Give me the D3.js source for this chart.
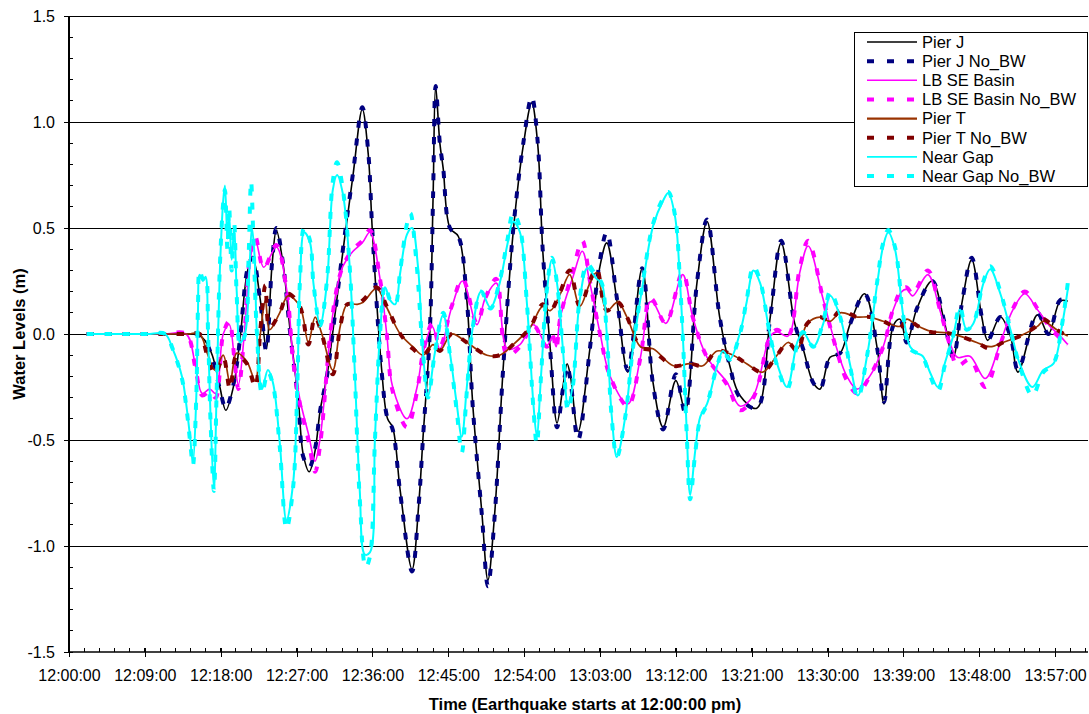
<!DOCTYPE html>
<html><head><meta charset="utf-8">
<script src="https://cdn.jsdelivr.net/npm/d3@7"></script>
<style>body{margin:0;background:#fff}svg{display:block;font-family:Arial,"Liberation Sans",sans-serif}</style>
</head><body><svg id="c" width="1089" height="714"></svg>
<script>
// minutes after 12:00:00, water level (m)
const pierJ = [[2.1,0],[4.6,0],[7.0,0],[9.3,0],[11.4,0],[14.0,0],[15.2,0.0],[16.1,-0.03],[17.0,-0.1],[17.9,-0.25],[18.6,-0.36],[19.5,-0.25],[20.3,-0.02],[21.2,0.30],[21.8,0.355],[22.7,0.16],[23.4,-0.07],[24.1,0.33],[24.6,0.49],[25.4,0.33],[26.2,0.03],[27.2,-0.31],[27.8,-0.57],[28.5,-0.65],[29.2,-0.55],[29.8,-0.36],[30.6,-0.2],[31.3,0.01],[32.5,0.39],[33.7,0.75],[34.8,1.06],[35.5,0.85],[36.0,0.48],[37.1,-0.17],[37.8,-0.40],[38.4,-0.44],[39.3,-0.74],[40.7,-1.11],[41.5,-0.8],[42.0,-0.49],[42.8,0.0],[43.2,0.65],[43.5,1.17],[44.0,0.9],[44.4,0.78],[45.2,0.5],[46.2,0.46],[47.2,0.16],[47.9,-0.33],[49.0,-0.85],[49.7,-1.16],[50.5,-0.85],[51.5,-0.17],[52.7,0.48],[53.9,0.89],[54.9,1.09],[55.6,0.9],[56.2,0.40],[57.1,-0.07],[57.9,-0.42],[58.6,-0.25],[59.1,-0.14],[59.5,-0.2],[60.4,-0.46],[61.8,-0.07],[63.0,0.32],[63.8,0.43],[65.0,0.16],[66.3,-0.18],[68.0,0.31],[69.3,-0.23],[70.5,-0.44],[72.0,-0.22],[73.1,-0.36],[74.5,0.24],[75.7,0.53],[77.2,0.08],[78.4,-0.15],[79.6,-0.29],[81.6,-0.35],[83.2,0.08],[84.5,0.43],[86.1,0.05],[87.1,-0.07],[88.3,-0.23],[89.1,-0.26],[90.3,-0.11],[91.5,-0.09],[92.7,0.05],[94.4,0.19],[95.9,-0.07],[96.7,-0.33],[97.8,0.04],[98.6,0.07],[99.4,-0.04],[100.6,0.12],[102.4,0.25],[103.9,0.05],[104.9,-0.11],[106.0,0.16],[107.1,0.35],[108.3,0.08],[109.0,-0.03],[110.5,0.08],[111.7,-0.01],[112.6,-0.18],[114.9,0.09],[116.2,0.0],[117.6,0.155],[118.5,0.155]];
const pierJNoBW = [[2.1,0],[4.6,0],[7.0,0],[9.3,0],[11.4,0],[14.0,0],[15.2,0.0],[16.1,-0.03],[17.0,-0.11],[17.9,-0.26],[18.6,-0.35],[19.5,-0.24],[20.3,-0.02],[21.2,0.31],[21.8,0.36],[22.7,0.15],[23.4,-0.08],[24.1,0.34],[24.6,0.50],[25.4,0.33],[26.2,0.02],[27.2,-0.32],[27.8,-0.58],[28.5,-0.63],[29.2,-0.54],[29.8,-0.36],[30.6,-0.2],[31.3,0.01],[32.5,0.40],[33.7,0.76],[34.8,1.07],[35.5,0.86],[36.0,0.48],[37.1,-0.18],[37.8,-0.40],[38.4,-0.45],[39.3,-0.75],[40.7,-1.12],[41.5,-0.8],[42.0,-0.49],[42.8,0.0],[43.2,0.66],[43.5,1.17],[44.0,0.9],[44.4,0.78],[45.2,0.5],[46.2,0.46],[47.2,0.16],[47.9,-0.34],[49.0,-0.86],[49.7,-1.19],[50.5,-0.86],[51.5,-0.17],[52.7,0.49],[53.9,0.9],[54.9,1.12],[55.6,0.91],[56.2,0.40],[57.1,-0.08],[57.9,-0.44],[58.6,-0.26],[59.1,-0.15],[59.5,-0.22],[60.4,-0.50],[61.8,-0.07],[63.0,0.35],[63.8,0.48],[65.0,0.17],[66.3,-0.17],[68.0,0.31],[69.3,-0.24],[70.5,-0.45],[72.0,-0.19],[73.1,-0.37],[74.5,0.24],[75.7,0.54],[77.2,0.08],[78.4,-0.15],[79.6,-0.3],[81.6,-0.35],[83.2,0.08],[84.5,0.44],[86.1,0.05],[87.1,-0.07],[88.3,-0.23],[89.1,-0.26],[90.3,-0.11],[91.5,-0.09],[92.7,0.05],[94.4,0.19],[95.9,-0.07],[96.7,-0.32],[97.8,0.04],[98.6,0.07],[99.4,-0.04],[100.6,0.12],[102.4,0.25],[103.9,0.05],[104.9,-0.11],[106.0,0.16],[107.1,0.36],[108.3,0.08],[109.0,-0.03],[110.5,0.08],[111.7,-0.01],[112.6,-0.17],[114.9,0.1],[116.2,0.0],[117.6,0.16],[118.5,0.16]];
const lbSE = [[2.1,0],[4.6,0],[7.0,0],[9.3,0],[11.4,0],[13.9,0],[15.0,-0.15],[15.8,-0.28],[16.7,-0.26],[17.4,-0.28],[18.3,0.0],[19.0,0.045],[19.7,-0.15],[20.1,-0.24],[20.8,0.0],[21.5,0.35],[22.1,0.445],[23.1,0.315],[24.6,0.41],[25.9,0.19],[26.6,-0.12],[27.4,-0.31],[28.4,-0.47],[29.2,-0.60],[29.8,-0.49],[31.0,0.0],[31.8,0.22],[32.5,0.32],[33.7,0.39],[34.8,0.43],[35.7,0.48],[36.9,0.26],[37.7,0.0],[38.4,-0.25],[40.1,-0.40],[41.3,-0.25],[42.0,-0.09],[43.1,0.035],[44.0,-0.07],[45.4,0.125],[46.7,0.25],[48.4,0.044],[49.4,0.17],[50.7,0.24],[52.0,-0.07],[53.5,-0.05],[55.1,0.044],[56.7,-0.054],[57.4,-0.01],[57.8,-0.06],[58.3,0.08],[59.8,0.27],[60.9,0.39],[61.8,0.24],[63.0,0.005],[64.2,-0.2],[66.3,-0.33],[67.8,-0.11],[68.9,0.15],[69.3,0.15],[70.8,0.05],[72.8,0.28],[74.0,0.08],[75.7,-0.11],[78.1,-0.23],[79.6,-0.34],[81.2,-0.29],[83.2,-0.01],[84.0,0.01],[85.3,-0.01],[86.7,0.29],[87.7,0.415],[89.5,0.16],[91.1,-0.07],[92.3,-0.2],[93.5,-0.26],[95.0,-0.2],[96.6,-0.06],[97.8,0.115],[98.8,0.2],[99.4,0.21],[100.1,0.18],[101.9,0.28],[103.3,0.115],[104.5,-0.04],[105.4,-0.11],[106.9,-0.105],[108.7,-0.21],[110.5,-0.04],[112.0,0.115],[113.4,0.19],[114.9,0.115],[116.4,0.036],[117.6,-0.01],[118.5,-0.05]];
const lbSENoBW = [[2.1,0],[4.6,0],[7.0,0],[9.3,0],[11.4,0],[13.9,0],[15.0,-0.16],[15.8,-0.29],[16.7,-0.27],[17.4,-0.3],[18.3,0.0],[19.0,0.06],[19.7,-0.15],[20.1,-0.26],[20.8,0.0],[21.5,0.37],[22.1,0.46],[23.1,0.31],[24.6,0.42],[25.9,0.18],[26.6,-0.13],[27.4,-0.33],[28.4,-0.5],[29.2,-0.65],[29.8,-0.52],[31.0,0.0],[31.8,0.22],[32.5,0.32],[33.7,0.40],[34.8,0.44],[35.7,0.49],[36.9,0.26],[37.7,0.0],[38.4,-0.27],[40.1,-0.44],[41.3,-0.27],[42.0,-0.09],[43.1,0.05],[44.0,-0.06],[45.4,0.13],[46.7,0.26],[48.4,0.05],[49.4,0.17],[50.7,0.26],[52.0,-0.1],[53.5,-0.06],[55.1,0.04],[56.7,-0.06],[57.4,-0.01],[57.8,-0.07],[58.3,0.08],[59.8,0.3],[60.9,0.44],[61.8,0.25],[63.0,0.0],[64.2,-0.2],[66.3,-0.34],[67.8,-0.11],[68.9,0.17],[69.3,0.16],[70.8,0.05],[72.8,0.29],[74.0,0.08],[75.7,-0.11],[78.1,-0.24],[79.6,-0.36],[81.2,-0.3],[83.2,-0.01],[84.0,0.02],[85.3,-0.01],[86.7,0.31],[87.7,0.44],[89.5,0.16],[91.1,-0.08],[92.3,-0.22],[93.5,-0.28],[95.0,-0.2],[96.6,-0.06],[97.8,0.12],[98.8,0.21],[99.4,0.22],[100.1,0.19],[101.9,0.30],[103.3,0.12],[104.5,-0.05],[105.4,-0.15],[106.9,-0.12],[108.7,-0.25],[110.5,-0.05],[112.0,0.12],[113.4,0.2],[114.9,0.12],[116.4,0.03],[117.6,-0.02],[118.5,-0.05]];
const pierT = [[2.1,0],[4.6,0],[7.0,0],[9.3,0],[11.4,0],[14.0,0],[15.5,0.0],[16.4,-0.09],[17.3,-0.17],[18.3,-0.1],[19.1,-0.23],[19.9,-0.09],[21.1,-0.13],[22.1,-0.22],[22.7,0.0],[23.3,0.16],[23.8,0.02],[25.0,0.1],[26.0,0.18],[27.4,0.13],[28.4,-0.04],[29.2,0.08],[30.0,0.0],[31.3,-0.17],[32.2,0.04],[33.0,0.14],[34.2,0.14],[34.9,0.15],[36.5,0.215],[37.7,0.125],[39.3,0.0],[40.8,-0.06],[42.0,-0.1],[43.2,-0.05],[44.0,-0.08],[45.4,0.0],[47.2,-0.04],[49.6,-0.1],[51.1,-0.1],[52.7,-0.05],[54.7,0.03],[56.2,0.13],[57.1,0.11],[58.3,0.19],[59.4,0.28],[60.6,0.13],[61.8,0.24],[62.6,0.29],[63.8,0.11],[65.1,0.15],[66.2,0.08],[67.8,-0.06],[69.3,-0.07],[71.7,-0.15],[73.7,-0.14],[75.2,-0.15],[76.9,-0.08],[78.8,-0.1],[80.4,-0.14],[82.3,-0.18],[84.0,-0.1],[85.3,-0.04],[86.4,-0.07],[87.6,0.05],[89.1,0.08],[90.3,0.06],[91.5,0.1],[93.5,0.08],[95.0,0.08],[96.6,0.06],[98.6,0.036],[99.4,0.07],[100.6,0.04],[102.2,0.013],[104.2,0.005],[105.7,-0.01],[107.7,-0.04],[109.3,-0.06],[110.8,-0.04],[112.8,-0.01],[114.9,0.036],[115.6,0.06],[117.2,0.02],[118.5,-0.01]];
const pierTNoBW = [[2.1,0],[4.6,0],[7.0,0],[9.3,0],[11.4,0],[14.0,0],[15.5,0.0],[16.4,-0.1],[17.3,-0.19],[18.3,-0.11],[19.1,-0.26],[19.9,-0.1],[21.1,-0.14],[22.1,-0.25],[22.7,0.02],[23.3,0.23],[23.8,0.03],[25.0,0.1],[26.0,0.19],[27.4,0.13],[28.4,-0.05],[29.2,0.08],[30.0,0.0],[31.3,-0.19],[32.2,0.04],[33.0,0.14],[34.2,0.14],[34.9,0.16],[36.5,0.22],[37.7,0.13],[39.3,0.0],[40.8,-0.07],[42.0,-0.1],[43.2,-0.05],[44.0,-0.08],[45.4,0.0],[47.2,-0.04],[49.6,-0.1],[51.1,-0.1],[52.7,-0.05],[54.7,0.03],[56.2,0.14],[57.1,0.11],[58.3,0.2],[59.4,0.3],[60.6,0.13],[61.8,0.25],[62.6,0.31],[63.8,0.11],[65.1,0.15],[66.2,0.08],[67.8,-0.06],[69.3,-0.08],[71.7,-0.15],[73.7,-0.14],[75.2,-0.15],[76.9,-0.08],[78.8,-0.1],[80.4,-0.14],[82.3,-0.18],[84.0,-0.1],[85.3,-0.04],[86.4,-0.08],[87.6,0.05],[89.1,0.08],[90.3,0.06],[91.5,0.11],[93.5,0.08],[95.0,0.08],[96.6,0.06],[98.6,0.03],[99.4,0.07],[100.6,0.04],[102.2,0.01],[104.2,0.005],[105.7,-0.01],[107.7,-0.04],[109.3,-0.07],[110.8,-0.04],[112.8,-0.01],[114.9,0.04],[115.6,0.07],[117.2,0.02],[118.5,-0.01]];
const nearGap = [[2.1,0],[4.6,0],[7.0,0],[9.3,0],[11.4,0],[12.3,-0.07],[13.4,-0.2],[14.0,-0.36],[14.4,-0.5],[14.7,-0.61],[15.1,-0.3],[15.3,0.1],[15.5,0.28],[15.9,0.25],[16.2,0.27],[16.5,0.0],[16.8,-0.4],[17.2,-0.73],[17.5,-0.3],[17.9,0.3],[18.3,0.63],[18.5,0.70],[18.8,0.45],[19.0,0.56],[19.3,0.35],[19.6,0.5],[19.9,0.2],[20.3,-0.04],[20.9,0.005],[21.4,0.3],[21.7,0.5],[22.0,0.38],[22.3,0.0],[22.9,-0.26],[23.6,-0.17],[24.2,-0.23],[25.0,-0.51],[25.8,-0.88],[26.6,-0.7],[27.1,-0.23],[27.4,0.24],[27.9,0.48],[28.6,0.43],[29.0,0.24],[29.8,0.044],[30.6,0.24],[31.3,0.68],[31.8,0.75],[32.5,0.66],[33.3,0.32],[33.9,-0.17],[34.5,-0.74],[35.1,-1.04],[35.7,-1.03],[36.3,-0.49],[36.9,0.0],[37.5,0.22],[38.1,0.16],[38.7,0.14],[39.3,0.29],[40.1,0.47],[40.7,0.5],[41.4,0.32],[42.0,-0.09],[42.6,-0.29],[43.4,-0.09],[44.4,0.09],[45.2,-0.09],[46.0,-0.33],[46.6,-0.485],[47.2,-0.25],[47.9,0.03],[48.9,0.2],[50.0,0.125],[51.1,0.24],[52.0,0.42],[52.7,0.53],[53.5,0.48],[54.3,0.16],[55.1,-0.33],[55.5,-0.48],[56.0,-0.2],[56.7,0.2],[57.3,0.35],[57.9,0.24],[58.6,-0.07],[59.2,-0.34],[59.8,-0.23],[60.6,0.16],[61.5,0.31],[62.6,0.26],[63.2,0.24],[63.8,0.005],[64.4,-0.39],[65.0,-0.58],[66.0,-0.39],[66.9,-0.07],[68.1,0.24],[69.3,0.51],[70.5,0.63],[71.1,0.665],[71.9,0.555],[72.5,0.24],[72.9,-0.07],[73.3,-0.47],[73.7,-0.76],[74.3,-0.55],[74.9,-0.39],[75.7,-0.33],[76.9,-0.15],[77.6,-0.08],[78.4,-0.12],[79.6,0.005],[80.4,0.15],[81.2,0.3],[82.0,0.24],[83.2,-0.01],[84.1,-0.15],[85.2,-0.25],[86.4,-0.04],[87.1,0.01],[88.3,-0.06],[89.5,0.05],[90.3,0.18],[91.5,0.08],[92.7,-0.15],[93.6,-0.29],[94.7,-0.1],[95.9,0.24],[96.6,0.415],[97.2,0.48],[98.0,0.4],[99.0,0.08],[99.8,-0.06],[100.6,-0.09],[101.3,-0.105],[102.2,-0.185],[103.1,-0.25],[103.9,-0.14],[104.9,-0.01],[105.7,0.115],[106.5,0.02],[107.3,0.05],[108.5,0.24],[109.3,0.305],[110.5,0.19],[111.7,0.02],[112.8,-0.14],[114.3,-0.25],[115.6,-0.17],[116.8,-0.14],[117.8,0.036],[118.5,0.21]];
const nearGapNoBW = [[2.1,0],[4.6,0],[7.0,0],[9.3,0],[11.4,0],[12.3,-0.07],[13.4,-0.21],[14.0,-0.37],[14.4,-0.52],[14.7,-0.62],[15.1,-0.3],[15.3,0.12],[15.5,0.3],[15.9,0.26],[16.2,0.27],[16.5,0.0],[16.8,-0.42],[17.2,-0.74],[17.5,-0.3],[17.9,0.32],[18.3,0.62],[18.5,0.68],[18.8,0.4],[19.0,0.6],[19.3,0.3],[19.6,0.52],[19.9,0.18],[20.3,-0.05],[20.9,0.0],[21.3,0.35],[21.6,0.72],[21.9,0.42],[22.3,0.0],[22.9,-0.28],[23.6,-0.18],[24.2,-0.24],[25.0,-0.53],[25.8,-0.92],[26.6,-0.72],[27.1,-0.23],[27.4,0.25],[27.9,0.5],[28.6,0.44],[29.0,0.24],[29.8,0.04],[30.6,0.25],[31.3,0.72],[31.8,0.81],[32.5,0.68],[33.3,0.32],[33.9,-0.18],[34.5,-0.78],[35.2,-1.10],[35.7,-1.05],[36.3,-0.5],[36.9,0.0],[37.5,0.23],[38.1,0.16],[38.7,0.14],[39.3,0.3],[40.1,0.52],[40.5,0.57],[41.2,0.35],[42.0,-0.09],[42.6,-0.3],[43.4,-0.09],[44.4,0.1],[45.2,-0.1],[46.0,-0.36],[46.6,-0.56],[47.2,-0.27],[47.9,0.03],[48.9,0.2],[50.0,0.12],[51.1,0.25],[52.0,0.44],[52.7,0.57],[53.5,0.5],[54.3,0.16],[55.1,-0.35],[55.5,-0.52],[56.0,-0.2],[56.7,0.21],[57.3,0.36],[57.9,0.24],[58.6,-0.08],[59.2,-0.36],[59.8,-0.24],[60.6,0.17],[61.5,0.33],[62.6,0.27],[63.2,0.24],[63.8,0.0],[64.4,-0.4],[65.0,-0.58],[66.0,-0.39],[66.9,-0.07],[68.1,0.25],[69.3,0.52],[70.5,0.64],[71.1,0.67],[71.9,0.56],[72.5,0.24],[72.9,-0.08],[73.3,-0.48],[73.7,-0.78],[74.3,-0.56],[74.9,-0.4],[75.7,-0.33],[76.9,-0.15],[77.6,-0.08],[78.4,-0.12],[79.6,0.0],[80.4,0.16],[81.2,0.32],[82.0,0.25],[83.2,-0.01],[84.1,-0.16],[85.2,-0.26],[86.4,-0.05],[87.1,0.01],[88.3,-0.06],[89.5,0.06],[90.3,0.2],[91.5,0.08],[92.7,-0.16],[93.6,-0.3],[94.7,-0.1],[95.9,0.25],[96.6,0.43],[97.2,0.49],[98.0,0.41],[99.0,0.08],[99.8,-0.07],[100.6,-0.09],[101.3,-0.11],[102.2,-0.2],[103.1,-0.27],[103.9,-0.15],[104.9,-0.01],[105.7,0.13],[106.5,0.02],[107.3,0.05],[108.5,0.25],[109.3,0.32],[110.5,0.2],[111.7,0.02],[112.8,-0.15],[114.3,-0.29],[115.6,-0.18],[116.8,-0.14],[117.8,0.04],[118.5,0.24]];

const seriesNames = ["Pier J","Pier J No_BW","LB SE Basin","LB SE Basin No_BW","Pier T","Pier T No_BW","Near Gap","Near Gap No_BW"];
const seriesColors = ["#000000","#000080","#FF00FF","#FF00FF","#993300","#800000","#00FFFF","#00FFFF"];
const seriesDashed = [false,true,false,true,false,true,false,true];
const seriesData = [pierJ,pierJNoBW,lbSE,lbSENoBW,pierT,pierTNoBW,nearGap,nearGapNoBW];

const xTickMinutes = [0,9,18,27,36,45,54,63,72,81,90,99,108,117];
const xTickLabels = ["12:00:00","12:09:00","12:18:00","12:27:00","12:36:00","12:45:00","12:54:00","13:03:00","13:12:00","13:21:00","13:30:00","13:39:00","13:48:00","13:57:00"];
const yTicks = [-1.5,-1.0,-0.5,0,0.5,1.0,1.5];
const yTickLabels = ["-1.5","-1.0","-0.5","0.0","0.5","1.0","1.5"];
const xTitle = "Time (Earthquake starts at 12:00:00 pm)";
const yTitle = "Water Levels (m)";

const svg = d3.select("#c");
const x = d3.scaleLinear().domain([0,120.9]).range([69,1088]);
const y = d3.scaleLinear().domain([-1.5,1.5]).range([652,16]);
const x0 = x.range()[0], x1 = x.range()[1];

// gridlines
svg.append("g").selectAll("line").data(yTicks.filter(d=>d>-1.5)).join("line")
  .attr("x1",x0).attr("x2",x1).attr("y1",d=>y(d)).attr("y2",d=>y(d))
  .attr("stroke","#000").attr("stroke-width",1).attr("shape-rendering","crispEdges");

// minor ticks
const yMinor = d3.range(-15,16).map(i=>i/10);
svg.append("g").selectAll("line").data(yMinor).join("line")
  .attr("x1",x0).attr("x2",x0+4).attr("y1",d=>y(d)).attr("y2",d=>y(d))
  .attr("stroke","#000").attr("shape-rendering","crispEdges");
const xMinor = d3.range(0,68).map(i=>i*1.8).filter(d=>d<=120.9);
svg.append("g").selectAll("line").data(xMinor).join("line")
  .attr("x1",d=>x(d)).attr("x2",d=>x(d)).attr("y1",652).attr("y2",648)
  .attr("stroke","#000").attr("shape-rendering","crispEdges");

// axes
const yAxis = svg.append("g").attr("transform",`translate(${x0},0)`)
  .call(d3.axisLeft(y).tickValues(yTicks).tickFormat((d,i)=>yTickLabels[i]).tickSize(5).tickPadding(9));
const xAxis = svg.append("g").attr("transform",`translate(0,652)`)
  .call(d3.axisBottom(x).tickValues(xTickMinutes).tickFormat((d,i)=>xTickLabels[i]).tickSize(5).tickPadding(13));
[yAxis,xAxis].forEach(a=>{
  a.select(".domain").remove();
  a.selectAll("text").attr("font-size",16).attr("font-family","Arial, 'Liberation Sans', sans-serif").attr("fill","#000");
  a.selectAll("line").attr("stroke","#000").attr("shape-rendering","crispEdges");
});
xAxis.selectAll(".tick line").attr("y1",-4);
svg.append("line").attr("x1",x0).attr("x2",x0).attr("y1",y(1.5)).attr("y2",y(-1.5)+0.5)
  .attr("stroke","#000").attr("stroke-width",2);
svg.append("line").attr("x1",x0).attr("x2",x1).attr("y1",652).attr("y2",652)
  .attr("stroke","#000").attr("stroke-width",1.5);

// series
const line = d3.line().x(d=>x(d[0])).y(d=>y(d[1])).curve(d3.curveCatmullRom.alpha(0.5));
const plot = svg.append("g");
seriesData.forEach((data,i)=>{
  plot.append("path").datum(data).attr("d",line).attr("fill","none")
    .attr("stroke",seriesColors[i])
    .attr("stroke-width",seriesDashed[i]?4:(i===4?1.7:(i===6?2:1.6)))
    .attr("stroke-dasharray",seriesDashed[i]?"7,11":null)
    .attr("stroke-linejoin","round");
});

// titles
svg.append("text").attr("x",585).attr("y",710).attr("text-anchor","middle")
  .attr("font-weight","bold").attr("font-size",16.5).text(xTitle);
svg.append("text").attr("transform","translate(25,334) rotate(-90)").attr("text-anchor","middle")
  .attr("font-weight","bold").attr("font-size",16.5).text(yTitle);

// legend
const lg = svg.append("g");
lg.append("rect").attr("x",854.5).attr("y",32.5).attr("width",233).attr("height",154)
  .attr("fill","#fff").attr("stroke","#000").attr("stroke-width",1);
seriesNames.forEach((n,i)=>{
  const cy = 42 + i*19.14;
  lg.append("line").attr("x1",867).attr("x2",917).attr("y1",cy).attr("y2",cy)
    .attr("stroke",seriesColors[i])
    .attr("stroke-width",seriesDashed[i]?4:(i===4?2.2:1.6))
    .attr("stroke-dasharray",seriesDashed[i]?"7,13":null);
  lg.append("text").attr("x",922).attr("y",cy+5.8).attr("font-size",16.5).text(n);
});
</script></body></html>
